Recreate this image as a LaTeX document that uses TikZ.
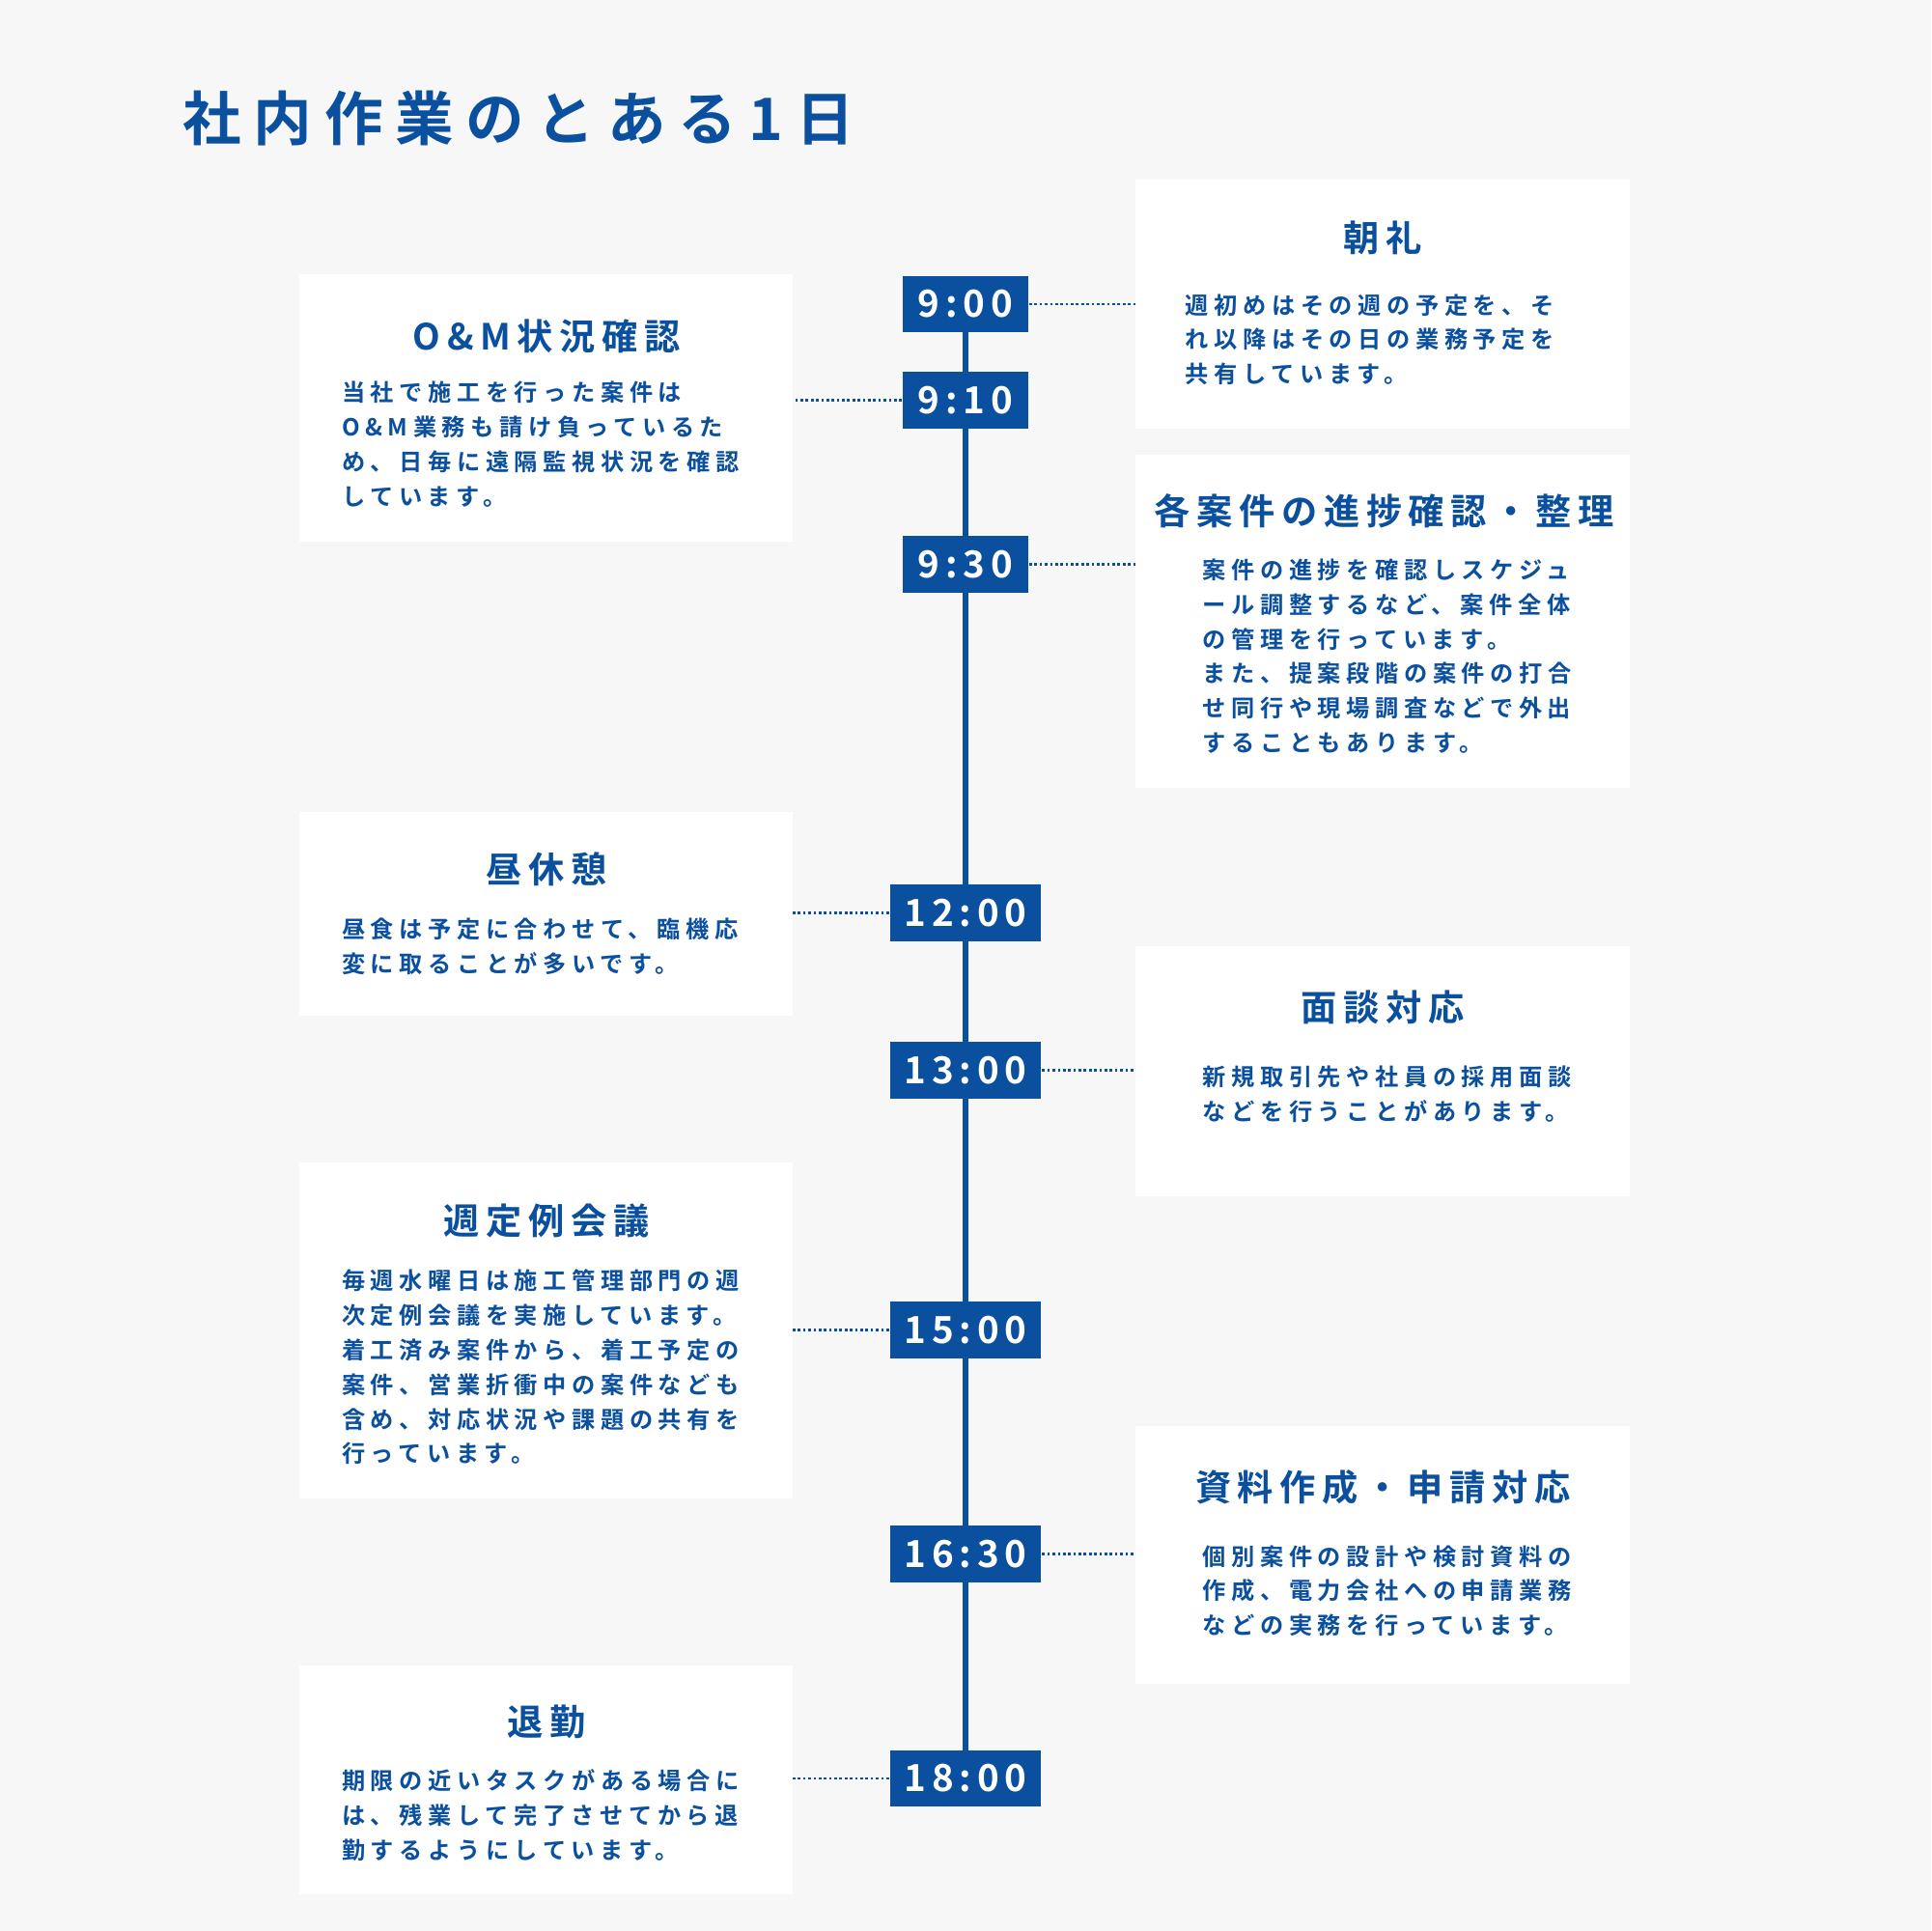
\documentclass[tikz,border=0pt]{standalone}
\usepackage{fontspec}
\newfontfamily\jpb[LetterSpace=23]{Noto Sans CJK JP Bold}
\newfontfamily\jpt[LetterSpace=18]{Noto Sans CJK JP Bold}
\newfontfamily\jpmain[LetterSpace=21]{Noto Sans CJK JP Bold}
\newfontfamily\jptime[LetterSpace=15]{Noto Sans CJK JP Bold}
\definecolor{myblue}{HTML}{0B4F9F}
\definecolor{bg}{HTML}{F7F7F7}
\begin{document}
\begin{tikzpicture}[x=0.01cm,y=-0.01cm,
 card/.style={fill=white,draw=none},
 ttl/.style={text=myblue,font=\jpt\fontsize{8.3pt}{10pt}\selectfont,inner sep=0,anchor=center},
 body/.style={text=myblue,font=\jpb\fontsize{5.4pt}{8pt}\selectfont,inner sep=0,anchor=north west,align=left},
 tbox/.style={fill=myblue,text=white,font=\jptime\fontsize{8.6pt}{10pt}\selectfont,inner sep=0,minimum height=0.46cm},
 dots/.style={myblue,line width=0.6pt,dash pattern=on 0.6pt off 0.6pt}]
\fill[bg] (0,0) rectangle (1568,1568);
\useasboundingbox (0,0) rectangle (1568,1568);
\node[anchor=west,inner sep=0,text=myblue,font=\jpmain\fontsize{13.5pt}{16pt}\selectfont] (title) at (148,96) {社内作業のとある1日};
% line
\coordinate (ltop) at (784,247);
\coordinate (lbot) at (784,1444);
\draw[myblue,line width=1.4pt] (ltop) -- (lbot);
% time boxes
\node[tbox,minimum width=1.02cm] (t900) at (784,247) {9:00};
\node[tbox,minimum width=1.02cm] (t910) at (784,325) {9:10};
\node[tbox,minimum width=1.02cm] (t930) at (784,458) {9:30};
\node[tbox,minimum width=1.23cm] (t1200) at (784,741) {12:00};
\node[tbox,minimum width=1.23cm] (t1300) at (784,869) {13:00};
\node[tbox,minimum width=1.23cm] (t1500) at (784,1080) {15:00};
\node[tbox,minimum width=1.23cm] (t1630) at (784,1262) {16:30};
\node[tbox,minimum width=1.23cm] (t1800) at (784,1444) {18:00};
% right cards
\path[card] (922,146) rectangle (1323,348); \coordinate (c1) at (922,247);
\node[ttl] (h1) at (1123,193) {朝礼};
\node[body] (b1) at (962,238) {週初めはその週の予定を、そ\\れ以降はその日の業務予定を\\共有しています。};
\path[card] (922,369) rectangle (1323,640); \coordinate (c3) at (922,458);
\node[ttl] (h3) at (1124,415) {各案件の進捗確認・整理};
\node[body] (b3) at (976,453) {案件の進捗を確認しスケジュ\\ール調整するなど、案件全体\\の管理を行っています。\\また、提案段階の案件の打合\\せ同行や現場調査などで外出\\することもあります。};
\path[card] (922,768) rectangle (1323,971); \coordinate (c5) at (922,869);
\node[ttl] (h5) at (1123,818) {面談対応};
\node[body] (b5) at (976,865) {新規取引先や社員の採用面談\\などを行うことがあります。};
\path[card] (922,1158) rectangle (1323,1367); \coordinate (c7) at (922,1262);
\node[ttl] (h7) at (1123,1208) {資料作成・申請対応};
\node[body] (b7) at (976,1254) {個別案件の設計や検討資料の\\作成、電力会社への申請業務\\などの実務を行っています。};
% left cards
\path[card] (243,223) rectangle (644,440); \coordinate (c2) at (644,325);
\node[ttl] (h2) at (444,273) {O\&M状況確認};
\node[body] (b2) at (277,309) {当社で施工を行った案件は\\O\&M業務も請け負っているた\\め、日毎に遠隔監視状況を確認\\しています。};
\path[card] (243,659) rectangle (644,825); \coordinate (c4) at (644,741);
\node[ttl] (h4) at (444,706) {昼休憩};
\node[body] (b4) at (277,745) {昼食は予定に合わせて、臨機応\\変に取ることが多いです。};
\path[card] (243,944) rectangle (644,1217); \coordinate (c6) at (644,1080);
\node[ttl] (h6) at (444,991) {週定例会議};
\node[body] (b6) at (277,1030) {毎週水曜日は施工管理部門の週\\次定例会議を実施しています。\\着工済み案件から、着工予定の\\案件、営業折衝中の案件なども\\含め、対応状況や課題の共有を\\行っています。};
\path[card] (243,1352) rectangle (644,1538); \coordinate (c8) at (644,1444);
\node[ttl] (h8) at (444,1398) {退勤};
\node[body] (b8) at (277,1436) {期限の近いタスクがある場合に\\は、残業して完了させてから退\\勤するようにしています。};
% connectors
\draw[dots] (t900) -- (c1);
\draw[dots] (t910) -- (c2);
\draw[dots] (t930) -- (c3);
\draw[dots] (t1200) -- (c4);
\draw[dots] (t1300) -- (c5);
\draw[dots] (t1500) -- (c6);
\draw[dots] (t1630) -- (c7);
\draw[dots] (t1800) -- (c8);
\end{tikzpicture}
\end{document}
